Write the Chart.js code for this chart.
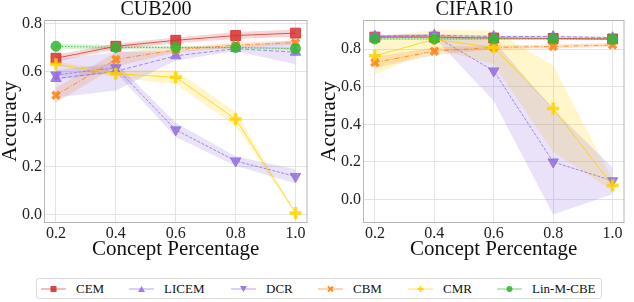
<!DOCTYPE html>
<html>
<head>
<meta charset="utf-8">
<script src="https://cdn.jsdelivr.net/npm/chart.js@4.4.0/dist/chart.umd.min.js"></script>
<style>
  body { margin: 0; background: #fff; width: 634px; height: 302px; position: relative; overflow: hidden; font-family: "Liberation Serif", "Times New Roman", Times, "DejaVu Serif", serif; }
  #cub { position: absolute; left: 0; top: 0; }
  #cifar { position: absolute; left: 317px; top: 0; }
  #legend { position: absolute; left: 36px; top: 278px; width: 566px; height: 21px; box-sizing: border-box; border: 1px solid #dcdcdc; border-radius: 3px; }
  .item { position: absolute; top: 3px; display: flex; align-items: center; white-space: nowrap; font-size: 13px; line-height: 13px; color: #111; }
  .item svg { margin-right: 10px; }
</style>
</head>
<body>
<canvas id="cub" width="317" height="260"></canvas>
<canvas id="cifar" width="317" height="260"></canvas>
<div id="legend"></div>
<script>
const FONT = '"Liberation Serif", "Times New Roman", Times, "DejaVu Serif", serif';

// concept percentage on the x axis
const concepts = [0.2, 0.4, 0.6, 0.8, 1.0];
const xTicks = [0.2, 0.4, 0.6, 0.8, 1.0];
const yTicks = [0.0, 0.2, 0.4, 0.6, 0.8];

const methods = ['CEM', 'LICEM', 'DCR', 'CBM', 'CMR', 'Lin-M-CBE'];

// CUB200 mean / std
const cubCEM = [0.655, 0.705, 0.73, 0.75, 0.76];
const cubCEMStd = [0.015, 0.012, 0.012, 0.015, 0.015];
const cubLICEM = [0.57, 0.60, 0.665, 0.695, 0.68];
const cubLICEMStd = [0.08, 0.08, 0.02, 0.01, 0.05];
const cubDCR = [0.585, 0.615, 0.355, 0.225, 0.16];
const cubDCRStd = [0.02, 0.02, 0.03, 0.02, 0.03];
const cubCBM = [0.50, 0.65, 0.69, 0.71, 0.72];
const cubCBMStd = [0.03, 0.03, 0.01, 0.01, 0.01];
const cubCMR = [0.63, 0.59, 0.575, 0.40, 0.007];
const cubCMRStd = [0.01, 0.015, 0.03, 0.03, 0.003];
const cubLin = [0.705, 0.70, 0.70, 0.70, 0.695];
const cubLinStd = [0.01, 0.01, 0.005, 0.005, 0.005];

// CIFAR10 mean / std
const cifCEM = [0.865, 0.865, 0.86, 0.858, 0.855];
const cifCEMStd = [0.005, 0.005, 0.005, 0.005, 0.005];
const cifLICEM = [0.87, 0.875, 0.868, 0.868, 0.862];
const cifLICEMStd = [0.005, 0.005, 0.005, 0.005, 0.005];
const cifDCR = [0.868, 0.872, 0.685, 0.20, 0.10];
const cifDCRStd = [0.01, 0.01, 0.16, 0.28, 0.07];
const cifCBM = [0.73, 0.79, 0.81, 0.815, 0.823];
const cifCBMStd = [0.03, 0.02, 0.01, 0.01, 0.01];
const cifCMR = [0.765, 0.853, 0.81, 0.485, 0.075];
const cifCMRStd = [0.1, 0.05, 0.09, 0.23, 0.03];
const cifLin = [0.855, 0.855, 0.855, 0.855, 0.853];
const cifLinStd = [0.005, 0.005, 0.005, 0.005, 0.005];

// look of each method
const styles = [
  { rgb: '214,50,50', point: 'rect', radius: 7, bw: 1, dash: [] },
  { rgb: '147,112,219', point: 'triangle', radius: 6, bw: 1, dash: [4, 2] },
  { rgb: '147,112,219', point: 'triangle', radius: 6, bw: 1, dash: [3, 1.5], rot: 180 },
  { rgb: '255,127,14', point: 'crossRot', radius: 5, bw: 3.5, dash: [5, 2, 1, 2] },
  { rgb: '255,210,0', point: 'cross', radius: 6, bw: 3.5, dash: [] },
  { rgb: '50,185,50', point: 'circle', radius: 5, bw: 1, dash: [1.5, 1.5] },
];
// legend entry left edges inside the legend box
const legendLeft = [4, 92, 194, 281, 371, 460];

function pts(vals) { return vals.map((v, i) => ({ x: concepts[i], y: v })); }

function buildSets(means, stds) {
  const bands = [], lines = [];
  means.forEach((m, k) => {
    const s = styles[k];
    bands.push({
      data: pts(m.map((v, i) => v + stds[k][i])), borderWidth: 0, pointRadius: 0, fill: false, order: 20 + k,
    });
    bands.push({
      data: pts(m.map((v, i) => v - stds[k][i])), borderWidth: 0, pointRadius: 0,
      fill: '-1', backgroundColor: 'rgba(' + s.rgb + ',0.2)', order: 20 + k,
    });
    lines.push({
      label: methods[k], data: pts(m),
      borderColor: 'rgba(' + s.rgb + ',0.8)', borderWidth: 1, borderDash: s.dash,
      pointStyle: s.point, pointRadius: s.radius, pointRotation: s.rot || 0,
      pointBackgroundColor: 'rgba(' + s.rgb + ',0.85)', pointBorderColor: 'rgba(' + s.rgb + ',0.85)',
      pointBorderWidth: s.bw, fill: false, order: 5 - k,
    });
  });
  return bands.concat(lines);
}

const frame = {
  id: 'frame',
  afterDatasetsDraw(chart) {
    const { ctx, chartArea: a } = chart;
    ctx.save();
    ctx.strokeStyle = '#b5b5b5';
    ctx.lineWidth = 1;
    ctx.strokeRect(a.left + 0.5, a.top + 0.5, a.width - 1, a.height - 1);
    ctx.restore();
  }
};

function makeChart(id, title, means, stds, yMin, yMax, yWidth, padRight, yTitlePad) {
  return new Chart(document.getElementById(id), {
    type: 'line',
    data: { datasets: buildSets(means, stds) },
    plugins: [frame],
    options: {
      responsive: false,
      animation: false,
      layout: { padding: { left: 0, right: padRight, top: 0, bottom: 0 } },
      plugins: {
        legend: { display: false },
        tooltip: { enabled: false },
        title: { display: true, text: title, color: '#111', padding: 0, font: { family: FONT, size: 20, weight: 'normal', lineHeight: 1 } },
      },
      scales: {
        x: {
          type: 'linear', min: 0.16, max: 1.04,
          afterBuildTicks: s => { s.ticks = xTicks.map(v => ({ value: v })); },
          afterFit: s => { s.height = 37; },
          grid: { color: '#e3e3e3', drawTicks: false },
          border: { display: false },
          ticks: { padding: 1, color: '#222', autoSkip: false, maxRotation: 0, font: { family: FONT, size: 16 }, callback: v => v.toFixed(1) },
          title: { display: true, text: 'Concept Percentage', color: '#111', padding: 0, font: { family: FONT, size: 21, lineHeight: 1 } },
        },
        y: {
          min: yMin, max: yMax,
          afterBuildTicks: s => { s.ticks = yTicks.map(v => ({ value: v })); },
          afterFit: s => { s.width = yWidth; },
          grid: { color: '#e3e3e3', drawTicks: false },
          border: { display: false },
          ticks: { padding: 2, color: '#222', font: { family: FONT, size: 16 }, callback: v => v.toFixed(1) },
          title: { display: true, text: 'Accuracy', color: '#111', padding: { top: yTitlePad, bottom: 0 }, font: { family: FONT, size: 21, lineHeight: 1 } },
        },
      },
    },
  });
}

makeChart('cub', 'CUB200',
  [cubCEM, cubLICEM, cubDCR, cubCBM, cubCMR, cubLin],
  [cubCEMStd, cubLICEMStd, cubDCRStd, cubCBMStd, cubCMRStd, cubLinStd],
  -0.035, 0.815, 44, 5, 0);

makeChart('cifar', 'CIFAR10',
  [cifCEM, cifLICEM, cifDCR, cifCBM, cifCMR, cifLin],
  [cifCEMStd, cifLICEMStd, cifDCRStd, cifCBMStd, cifCMRStd, cifLinStd],
  -0.125, 0.956, 46, 2.5, 1.5);

// legend below both panels
function marker(s) {
  const c = 'rgba(' + s.rgb + ',0.9)';
  const x = 12.5, y = 6;
  switch (s.point) {
    case 'rect': return `<rect x="${x - 3}" y="${y - 3}" width="6" height="6" fill="${c}"/>`;
    case 'triangle': return s.rot
      ? `<polygon points="${x - 3.5},${y - 3} ${x + 3.5},${y - 3} ${x},${y + 3}" fill="${c}"/>`
      : `<polygon points="${x - 3.5},${y + 3} ${x + 3.5},${y + 3} ${x},${y - 3}" fill="${c}"/>`;
    case 'crossRot': return `<path d="M${x - 2.5},${y - 2.5}L${x + 2.5},${y + 2.5}M${x + 2.5},${y - 2.5}L${x - 2.5},${y + 2.5}" stroke="${c}" stroke-width="2"/>`;
    case 'cross': return `<path d="M${x - 3},${y}L${x + 3},${y}M${x},${y - 3}L${x},${y + 3}" stroke="${c}" stroke-width="2"/>`;
    default: return `<circle cx="${x}" cy="${y}" r="3" fill="${c}"/>`;
  }
}
const legend = document.getElementById('legend');
methods.forEach((name, k) => {
  const s = styles[k];
  const item = document.createElement('div');
  item.className = 'item';
  item.style.left = legendLeft[k] + 'px';
  item.innerHTML = `<svg width="25" height="12"><line x1="0" y1="6" x2="25" y2="6" stroke="rgba(${s.rgb},0.55)" stroke-width="1.2"/>${marker(s)}</svg><span>${name}</span>`;
  legend.appendChild(item);
});
</script>
</body>
</html>
